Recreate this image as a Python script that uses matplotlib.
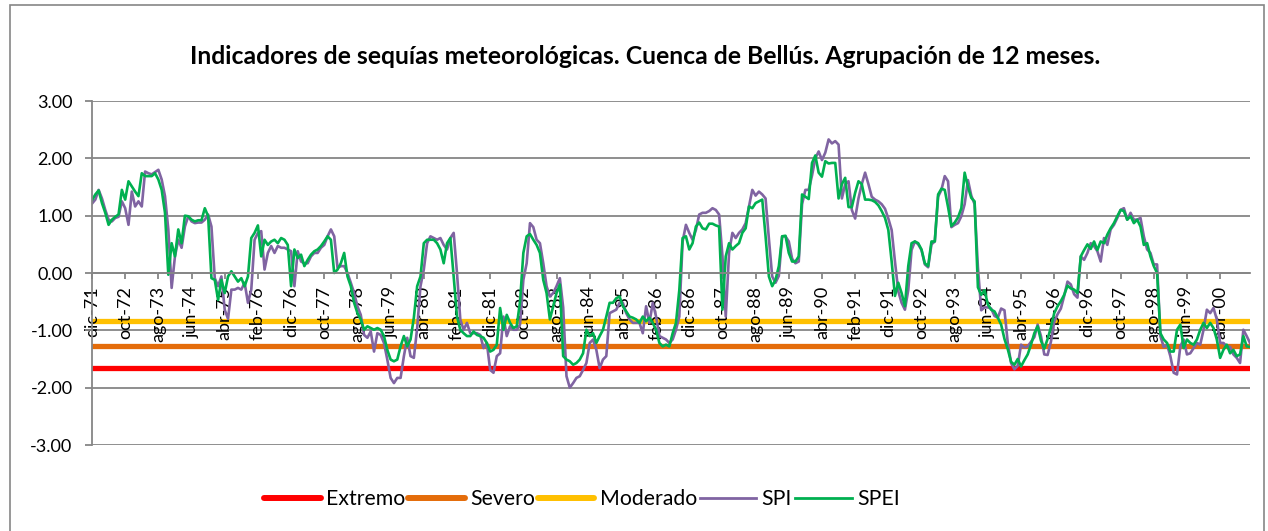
import matplotlib
matplotlib.use("Agg")
import matplotlib.pyplot as plt
from matplotlib.patches import Rectangle
import numpy as np

plt.rcParams['font.family'] = ['Lato', 'DejaVu Sans']

# ---------------- data ----------------
tick_labels = ["dic-71", "oct-72", "ago-73", "jun-74", "abr-75", "feb-76", "dic-76",
               "oct-77", "ago-78", "jun-79", "abr-80", "feb-81", "dic-81", "oct-82",
               "ago-83", "jun-84", "abr-85", "feb-86", "dic-86", "oct-87", "ago-88",
               "jun-89", "abr-90", "feb-91", "dic-91", "oct-92", "ago-93", "jun-94",
               "abr-95", "feb-96", "dic-96", "oct-97", "ago-98", "jun-99", "abr-00"]
tick_step = 10  # months between labels

spei = [
    1.27, 1.37, 1.44, 1.22, 1.05, 0.84, 0.93, 0.98, 1.02, 1.45,
    1.28, 1.60, 1.51, 1.42, 1.34, 1.74, 1.69, 1.69, 1.69, 1.74,
    1.63, 1.45, 1.05, -0.03, 0.52, 0.29, 0.76, 0.52, 1.00, 0.99,
    0.93, 0.90, 0.92, 0.92, 1.13, 0.99, -0.09, -0.12, -0.47, -0.12,
    -0.35, -0.06, 0.03, -0.06, -0.15, -0.09, -0.23, -0.06, 0.61, 0.70,
    0.83, 0.29, 0.58, 0.49, 0.55, 0.58, 0.52, 0.61, 0.58, 0.49,
    -0.23, 0.41, 0.26, 0.32, 0.12, 0.23, 0.32, 0.38, 0.41, 0.47,
    0.55, 0.64, 0.58, 0.00, 0.06, 0.17, 0.35, -0.06, -0.23, -0.52,
    -0.70, -0.81, -0.99, -0.93, -0.96, -0.99, -0.96, -0.99, -1.10, -1.34,
    -1.51, -1.54, -1.51, -1.28, -1.10, -1.28, -1.16, -0.78, -0.23, -0.06,
    0.52, 0.58, 0.58, 0.58, 0.52, 0.41, 0.17, 0.52, 0.61, -0.06,
    -0.76, -0.99, -1.05, -1.10, -1.10, -1.02, -1.08, -1.10, -1.13, -1.22,
    -1.37, -1.34, -1.25, -0.61, -0.99, -0.73, -0.87, -0.96, -0.93, -0.50,
    0.35, 0.64, 0.68, 0.58, 0.49, 0.35, -0.12, -0.35, -0.81, -0.58,
    -0.35, -0.20, -1.45, -1.51, -1.54, -1.60, -1.57, -1.51, -1.40, -0.99,
    -1.10, -1.05, -1.22, -1.10, -0.99, -0.76, -0.52, -0.52, -0.44, -0.41,
    -0.58, -0.67, -0.76, -0.78, -0.81, -0.87, -0.76, -0.84, -0.78, -0.87,
    -0.99, -1.22, -1.28, -1.25, -1.28, -1.05, -0.87, -0.30, 0.61, 0.64,
    0.41, 0.52, 0.81, 0.88, 0.78, 0.76, 0.86, 0.86, 0.83, 0.81,
    -0.64, 0.29, 0.52, 0.41, 0.47, 0.52, 0.70, 0.78, 1.16, 1.13,
    1.22, 1.25, 1.28, 0.64, -0.06, -0.23, -0.12, 0.12, 0.64, 0.65,
    0.35, 0.20, 0.20, 0.29, 1.37, 1.33, 1.29, 1.92, 2.05, 1.75,
    1.68, 1.95, 1.91, 1.92, 1.92, 1.30, 1.55, 1.66, 1.15, 1.15,
    1.40, 1.60, 1.55, 1.28, 1.28, 1.27, 1.24, 1.18, 1.08, 0.96,
    0.75, 0.20, -0.40, -0.17, -0.35, -0.58, 0.12, 0.52, 0.55, 0.52,
    0.41, 0.17, 0.12, 0.55, 0.55, 1.37, 1.47, 1.45, 1.15, 0.82,
    0.88, 0.97, 1.13, 1.75, 1.50, 1.31, 1.25, -0.25, -0.38, -0.30,
    -0.55, -0.64, -0.67, -0.78, -0.90, -1.15, -1.33, -1.55, -1.60, -1.50,
    -1.63, -1.52, -1.42, -1.25, -1.05, -0.93, -1.18, -1.32, -1.15, -0.95,
    -0.70, -0.58, -0.49, -0.38, -0.22, -0.27, -0.29, -0.35, 0.29, 0.40,
    0.50, 0.42, 0.55, 0.40, 0.55, 0.52, 0.67, 0.78, 0.87, 0.99,
    1.10, 1.08, 0.93, 0.99, 0.87, 0.93, 0.81, 0.49, 0.52, 0.29,
    0.12, 0.00, -1.05, -1.16, -1.22, -1.37, -1.37, -0.99, -0.90, -1.31,
    -1.16, -1.22, -1.25, -1.16, -0.99, -0.87, -0.96, -0.87, -0.96, -1.16,
    -1.48, -1.34, -1.25, -1.40, -1.34, -1.45, -1.42, -1.10, -1.28, -1.29,
]

spi = [
    1.21, 1.28, 1.45, 1.30, 1.10, 0.93, 0.90, 0.96, 0.98, 1.25,
    1.13, 0.84, 1.42, 1.16, 1.25, 1.16, 1.77, 1.74, 1.72, 1.76,
    1.80, 1.63, 1.34, 0.76, -0.26, 0.29, 0.58, 0.44, 0.81, 0.99,
    0.90, 0.87, 0.88, 0.88, 0.93, 1.02, 0.81, -0.09, -0.23, -0.06,
    -0.64, -0.80, -0.29, -0.29, -0.26, -0.29, -0.17, -0.52, -0.29, 0.58,
    0.70, 0.73, 0.06, 0.35, 0.47, 0.35, 0.47, 0.44, 0.44, 0.41,
    0.38, -0.23, 0.38, 0.20, 0.17, 0.17, 0.29, 0.35, 0.35, 0.44,
    0.49, 0.64, 0.76, 0.64, 0.09, 0.12, 0.12, 0.00, -0.17, -0.35,
    -0.58, -0.73, -1.08, -1.13, -1.02, -1.37, -1.05, -1.08, -1.22, -1.51,
    -1.83, -1.92, -1.83, -1.83, -1.45, -1.13, -1.45, -1.48, -0.96, -0.23,
    0.06, 0.52, 0.64, 0.61, 0.58, 0.61, 0.49, 0.41, 0.61, 0.70,
    0.00, -0.81, -0.99, -0.87, -1.05, -1.05, -1.05, -1.08, -1.31, -1.22,
    -1.69, -1.74, -1.45, -1.40, -0.76, -1.10, -0.93, -0.99, -0.99, -0.90,
    -0.12, 0.17, 0.87, 0.80, 0.58, 0.52, 0.17, -0.23, -0.41, -0.35,
    -0.23, -0.09, -0.60, -1.80, -2.00, -1.92, -1.83, -1.80, -1.69, -1.57,
    -1.22, -1.16, -1.34, -1.66, -1.51, -1.45, -0.70, -0.67, -0.64, -0.52,
    -0.52, -0.70, -0.81, -0.87, -0.87, -0.87, -1.05, -0.58, -0.87, -0.52,
    -0.76, -1.10, -1.13, -1.16, -1.22, -1.16, -0.99, -0.76, 0.55, 0.84,
    0.70, 0.58, 0.75, 1.02, 1.05, 1.05, 1.08, 1.13, 1.10, 1.02,
    0.30, -0.76, 0.35, 0.70, 0.61, 0.70, 0.76, 0.87, 1.16, 1.45,
    1.35, 1.42, 1.37, 1.30, 0.60, -0.06, -0.17, -0.05, 0.64, 0.64,
    0.55, 0.25, 0.17, 0.20, 1.20, 1.45, 1.45, 1.70, 2.00, 2.12,
    1.97, 2.10, 2.33, 2.26, 2.30, 2.24, 1.30, 1.55, 1.60, 1.10,
    0.95, 1.30, 1.55, 1.75, 1.55, 1.33, 1.28, 1.25, 1.20, 1.12,
    0.95, 0.75, 0.20, -0.32, -0.52, -0.64, -0.30, 0.40, 0.55, 0.50,
    0.40, 0.15, 0.10, 0.50, 0.55, 1.33, 1.45, 1.69, 1.60, 0.80,
    0.84, 0.87, 0.99, 1.20, 1.62, 1.35, 1.20, 0.10, -0.65, -0.60,
    -0.60, -0.62, -0.75, -0.78, -0.62, -0.65, -1.22, -1.57, -1.68, -1.62,
    -1.25, -1.30, -1.28, -1.20, -1.12, -0.90, -1.10, -1.42, -1.43, -1.20,
    -0.85, -0.72, -0.62, -0.40, -0.15, -0.20, -0.37, -0.43, 0.29, 0.23,
    0.35, 0.52, 0.47, 0.38, 0.20, 0.61, 0.49, 0.76, 0.84, 0.96,
    1.10, 1.13, 0.93, 1.05, 0.93, 0.93, 0.96, 0.64, 0.41, 0.35,
    0.15, 0.15, -1.10, -1.29, -1.25, -1.45, -1.74, -1.77, -1.28, -1.16,
    -1.42, -1.40, -1.31, -1.22, -1.25, -0.99, -0.64, -0.70, -0.61, -0.81,
    -1.22, -1.22, -1.28, -1.29, -1.42, -1.48, -1.57, -0.99, -1.10, -1.22,
]

thresholds = {"Extremo": -1.65, "Severo": -1.28, "Moderado": -0.84}
threshold_colors = {"Extremo": "#FF0000", "Severo": "#E46C0A", "Moderado": "#FFC000"}

title = "Indicadores de sequías meteorológicas. Cuenca de Bellús. Agrupación de 12 meses."

# ---------------- figure ----------------
W, H = 1268, 531
fig = plt.figure(figsize=(W / 100, H / 100), dpi=100)
fig.patch.set_facecolor("white")

# outer chart border
fig.patches.append(Rectangle((10 / W, -0.05), (1264 - 10) / W, 1.05 - 5 / H,
                             transform=fig.transFigure, fill=False,
                             edgecolor="#868686", linewidth=1.2))

ax = fig.add_axes([92 / W, 1 - 445 / H, (1250 - 92) / W, (445 - 101) / H])
n = len(spi)
x = np.arange(n)

grid_color = "#868686"

# spines first (set_position resets tick properties)
for s in ["top", "right"]:
    ax.spines[s].set_visible(False)
ax.spines["left"].set_color(grid_color)
ax.spines["left"].set_linewidth(1.3)
ax.spines["bottom"].set_position(("data", 0))
ax.spines["bottom"].set_color(grid_color)
ax.spines["bottom"].set_linewidth(1.3)

yt = np.arange(-3, 3.01, 1.0)
for v in yt:
    ax.axhline(v, color=grid_color, lw=1.3, zorder=0.5)

for name, val in thresholds.items():
    ax.plot(x, np.full(n, val), color=threshold_colors[name], lw=3.8,
            solid_capstyle="round", label=name, zorder=1.5)

ax.plot(x, spi, color="#8064A2", lw=1.9, label="SPI", zorder=1.8)
ax.plot(x, spei, color="#00B050", lw=1.9, label="SPEI", zorder=1.9)

ax.set_xlim(0, n - 1)
ax.set_ylim(-3, 3)
ax.set_yticks(yt)
ax.set_yticklabels([f"{v:.2f}" for v in yt], fontsize=13)
ax.set_xticks(np.arange(len(tick_labels)) * tick_step)
ax.set_xticklabels(tick_labels, fontsize=13)

ax.tick_params(axis="y", direction="out", length=5, width=1.3, color=grid_color, pad=9)
ax.tick_params(axis="x", direction="out", length=4.5, width=1.3, color=grid_color,
               pad=5, labelrotation=90)

fig.text(645 / W, 1 - 57 / H, title, ha="center", va="center",
         fontsize=17.8, fontweight="bold")

handles, labels = ax.get_legend_handles_labels()
leg = fig.legend(handles, labels, loc="center", bbox_to_anchor=(582 / W, 1 - 499 / H),
                 ncol=5, frameon=False, fontsize=15.3, handlelength=2.65,
                 handletextpad=0.25, columnspacing=0.15)
for lh in leg.get_lines():
    if lh.get_label() in thresholds:
        lh.set_linewidth(4.3)
    else:
        lh.set_linewidth(2.0)

fig.savefig("out.png", dpi=100, facecolor="white")
